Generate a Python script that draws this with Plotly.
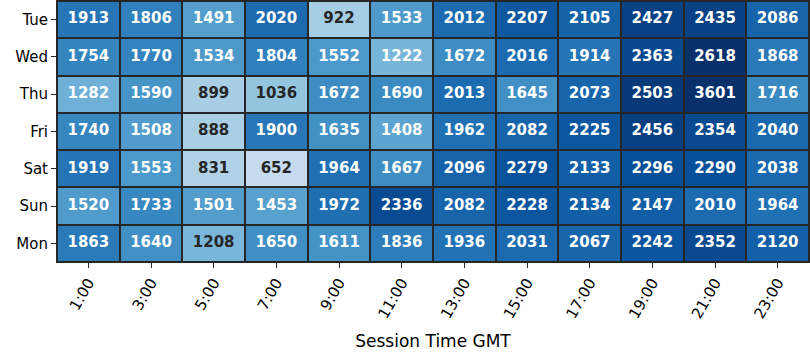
import plotly.graph_objects as go

hours = ["1:00", "3:00", "5:00", "7:00", "9:00", "11:00", "13:00", "15:00",
         "17:00", "19:00", "21:00", "23:00"]
days = ["Tue", "Wed", "Thu", "Fri", "Sat", "Sun", "Mon"]

tue = [1913, 1806, 1491, 2020, 922, 1533, 2012, 2207, 2105, 2427, 2435, 2086]
wed = [1754, 1770, 1534, 1804, 1552, 1222, 1672, 2016, 1914, 2363, 2618, 1868]
thu = [1282, 1590, 899, 1036, 1672, 1690, 2013, 1645, 2073, 2503, 3601, 1716]
fri = [1740, 1508, 888, 1900, 1635, 1408, 1962, 2082, 2225, 2456, 2354, 2040]
sat = [1919, 1553, 831, 652, 1964, 1667, 2096, 2279, 2133, 2296, 2290, 2038]
sun = [1520, 1733, 1501, 1453, 1972, 2336, 2082, 2228, 2134, 2147, 2010, 1964]
mon = [1863, 1640, 1208, 1650, 1611, 1836, 1936, 2031, 2067, 2242, 2352, 2120]

z = [tue, wed, thu, fri, sat, sun, mon]

blues = [
    [0.0, "#f7fbff"], [0.125, "#deebf7"], [0.25, "#c6dbef"], [0.375, "#9ecae1"],
    [0.5, "#6baed6"], [0.625, "#4292c6"], [0.75, "#2171b5"], [0.875, "#08519c"],
    [1.0, "#08306b"],
]

DARK = "#262626"

fig = go.Figure()
fig.add_trace(go.Heatmap(
    z=z, x=hours, y=days, colorscale=blues, zmin=0, zmax=2600,
    showscale=False, xgap=2, ygap=2, hoverinfo="skip",
))

tx, ty, tt, tc = [], [], [], []
for d, row in zip(days, z):
    for h, v in zip(hours, row):
        tx.append(h)
        ty.append(d)
        tt.append("<b>%d</b>" % v)
        tc.append(DARK if v < 1215 else "white")

fig.add_trace(go.Scatter(
    x=tx, y=ty, text=tt, mode="text",
    textfont=dict(family="DejaVu Sans", size=15, color=tc),
    hoverinfo="skip", showlegend=False, cliponaxis=False,
))

fig.add_shape(type="rect", xref="paper", yref="paper", x0=0, y0=0, x1=1, y1=1,
              line=dict(color=DARK, width=2))

fig.update_layout(
    width=810, height=360,
    margin=dict(l=57, r=1, t=1, b=98),
    paper_bgcolor="white", plot_bgcolor=DARK,
    font=dict(family="DejaVu Sans", color="black", size=14),
    showlegend=False,
    xaxis=dict(
        type="category", tickangle=-60, ticks="outside", ticklen=5,
        tickcolor=DARK, tickwidth=1, showgrid=False, zeroline=False,
        range=[-0.5, len(hours) - 0.5],
        tickfont=dict(size=15),
        title=dict(text="Session Time GMT", font=dict(size=17), standoff=14),
    ),
    yaxis=dict(
        type="category", ticks="outside", ticklen=5,
        tickcolor=DARK, tickwidth=1, showgrid=False, zeroline=False,
        range=[len(days) - 0.5, -0.5],
        tickfont=dict(size=15),
    ),
)

fig.write_html(
    "out.html",
    config={"displayModeBar": False},
    post_script="document.body.style.margin='0';document.body.style.overflow='hidden';",
)
